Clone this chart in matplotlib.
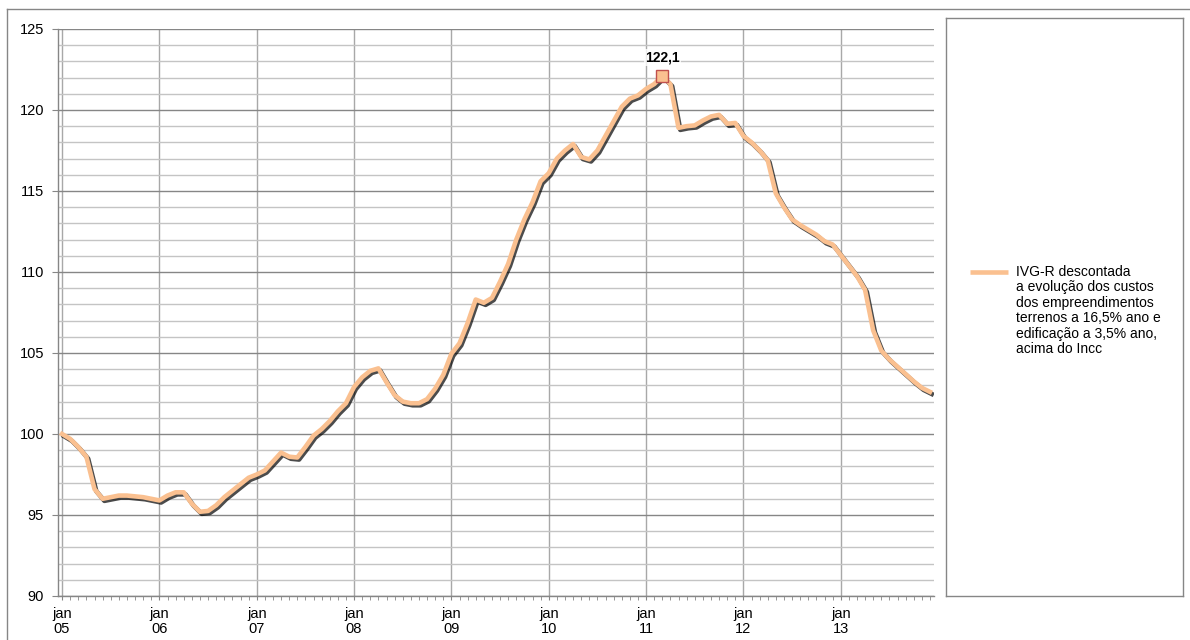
import matplotlib
matplotlib.use("Agg")
import matplotlib.pyplot as plt
import matplotlib.patheffects as pe
from matplotlib.lines import Line2D
import numpy as np

plt.rcParams['font.family'] = ['Liberation Sans', 'DejaVu Sans']

# monthly index, jan/2005 .. dec/2013
ivg_2005 = [100.0, 99.7, 99.2, 98.6, 96.6, 96.0, 96.1, 96.2, 96.2, 96.15, 96.1, 96.0]
ivg_2006 = [95.9, 96.2, 96.4, 96.4, 95.7, 95.2, 95.25, 95.6, 96.1, 96.5, 96.9, 97.3]
ivg_2007 = [97.5, 97.75, 98.3, 98.85, 98.6, 98.55, 99.2, 99.9, 100.3, 100.8, 101.4, 101.9]
ivg_2008 = [102.9, 103.5, 103.9, 104.05, 103.2, 102.4, 102.0, 101.9, 101.9, 102.15, 102.8, 103.65]
ivg_2009 = [104.95, 105.6, 106.85, 108.3, 108.1, 108.4, 109.4, 110.5, 112.0, 113.25, 114.3, 115.6]
ivg_2010 = [116.1, 117.0, 117.5, 117.9, 117.1, 116.95, 117.5, 118.4, 119.3, 120.2, 120.7, 120.9]
ivg_2011 = [121.3, 121.6, 122.1, 121.6, 118.9, 119.0, 119.05, 119.35, 119.6, 119.7, 119.15, 119.2]
ivg_2012 = [118.4, 118.0, 117.5, 116.9, 114.85, 114.0, 113.25, 112.9, 112.6, 112.3, 111.9, 111.7]
ivg_2013 = [111.05, 110.4, 109.75, 108.9, 106.4, 105.15, 104.6, 104.15, 103.7, 103.25, 102.85, 102.6]

ivg = (ivg_2005 + ivg_2006 + ivg_2007 + ivg_2008 + ivg_2009 +
       ivg_2010 + ivg_2011 + ivg_2012 + ivg_2013)
year_labels = ["jan\n05", "jan\n06", "jan\n07", "jan\n08", "jan\n09",
               "jan\n10", "jan\n11", "jan\n12", "jan\n13"]
peak_idx = 74
peak_label = "122,1"
legend_label = ("IVG-R descontada\na evolução dos custos\ndos empreendimentos\n"
                "terrenos a 16,5% ano e\nedificação a 3,5% ano,\nacima do Incc")

W, H = 1190, 640
fig = plt.figure(figsize=(W / 100, H / 100), dpi=100)

# plot area in pixels
left, right, top, bottom = 58, 934, 29, 596
ax = fig.add_axes([left / W, 1 - bottom / H, (right - left) / W, (bottom - top) / H])

x = np.arange(len(ivg))
orange = "#FAC090"
ax.plot(x, ivg, color=orange, lw=3.3, solid_joinstyle="round", zorder=5,
        path_effects=[pe.SimpleLineShadow(offset=(1.3, -1.5), shadow_color="black", alpha=0.7),
                      pe.Normal()])
ax.plot(x[peak_idx], ivg[peak_idx], marker="s", ms=8.5, mfc=orange, mec="#C0504D",
        mew=1, zorder=6, ls="none")
ax.annotate(peak_label, (x[peak_idx], ivg[peak_idx]), xytext=(0, 8),
            textcoords="offset points", ha="center", va="bottom",
            fontsize=10, fontweight="bold",
            bbox=dict(boxstyle="square,pad=0.1", fc="white", ec="none", alpha=0.8))

ax.set_xlim(-0.5, len(ivg) - 0.5)
ax.set_ylim(90, 125)
ax.set_yticks(np.arange(90, 126, 5))
ax.set_yticks(np.arange(90, 126, 1), minor=True)
ax.set_xticks(np.arange(0, len(ivg), 12))
ax.set_xticks(np.arange(0, len(ivg)), minor=True)
ax.set_xticklabels(year_labels, linespacing=1.05)

ax.grid(which="major", axis="y", color="#868686", lw=1)
ax.grid(which="minor", axis="y", color="#C4C4C4", lw=1)
ax.grid(which="major", axis="x", color="#A8A8A8", lw=1)
ax.set_axisbelow(True)

for s in ["top", "right"]:
    ax.spines[s].set_visible(False)
for s in ["left", "bottom"]:
    ax.spines[s].set_color("#868686")
    ax.spines[s].set_linewidth(1)

ax.tick_params(axis="y", which="major", length=4, color="#868686", labelsize=10.5, pad=6)
ax.tick_params(axis="y", which="minor", length=0)
ax.tick_params(axis="x", which="both", length=3, color="#868686", labelsize=10.5, pad=5)

# legend box
lx0, lx1, ly0, ly1 = 946, 1183, 18, 596
lax = fig.add_axes([lx0 / W, 1 - ly1 / H, (lx1 - lx0) / W, (ly1 - ly0) / H])
lax.set_xticks([])
lax.set_yticks([])
for s in lax.spines.values():
    s.set_color("#868686")
    s.set_linewidth(1)
lax.set_xlim(lx0, lx1)
lax.set_ylim(ly1, ly0)
lax.plot([970, 1008], [272, 272], color=orange, lw=3.3, solid_capstyle="butt")
lax.text(1016, 265, legend_label, fontsize=10, va="top", ha="left", linespacing=1.13)

# outer chart border (top and left edges)
fig.add_artist(Line2D([7 / W, 7 / W], [0, 1 - 9 / H], color="#868686", lw=1))
fig.add_artist(Line2D([7 / W, 1], [1 - 9 / H, 1 - 9 / H], color="#868686", lw=1))

fig.savefig("out.png", dpi=100)
